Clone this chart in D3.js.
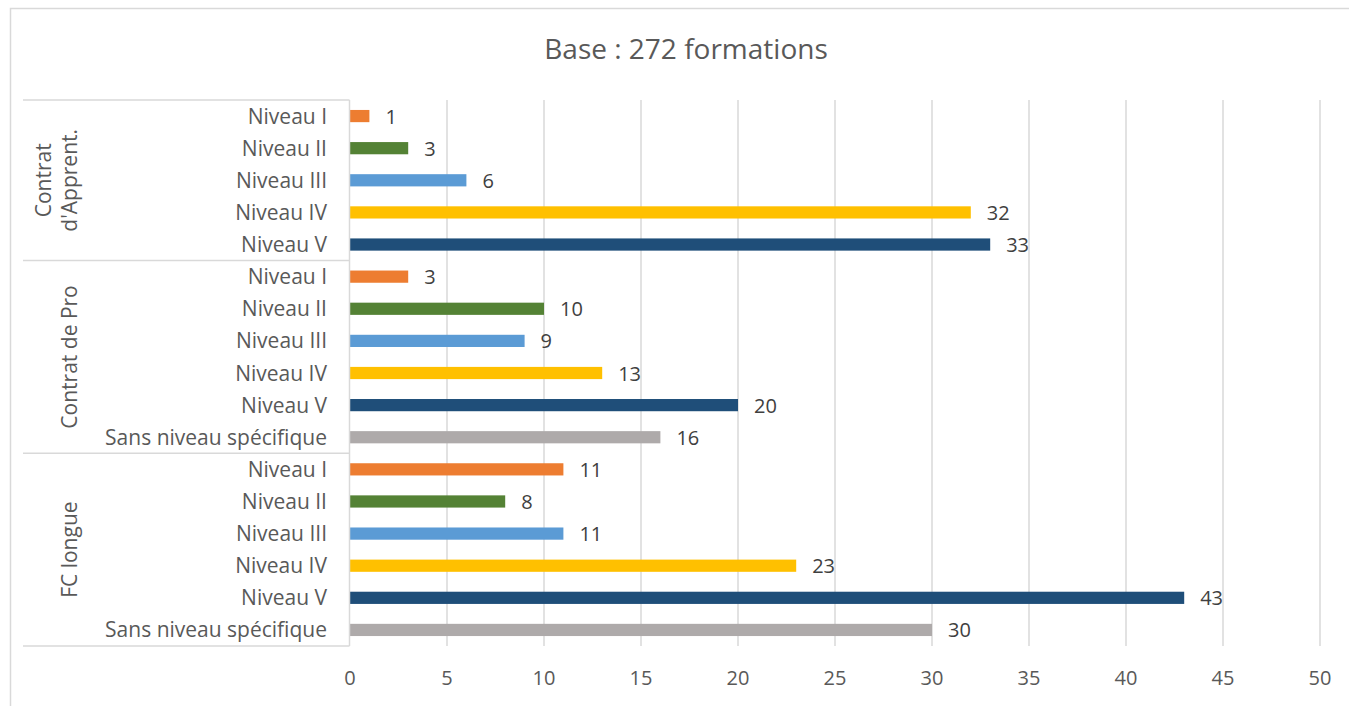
<!DOCTYPE html>
<html><head><meta charset="utf-8">
<script src="https://cdn.jsdelivr.net/npm/d3@7"></script>
<style>body{margin:0;background:#fff;} svg{display:block;font-family:"Open Sans",sans-serif;}</style>
</head><body><svg id="c" width="1349" height="706"></svg>
<script>
const title = "Base : 272 formations";
const groups = ["Contrat d'Apprent.", "Contrat de Pro", "FC longue"];
const groupLines = [["Contrat", "d'Apprent."], ["Contrat de Pro"], ["FC longue"]];
const levels = ["Niveau I", "Niveau II", "Niveau III", "Niveau IV", "Niveau V", "Sans niveau spécifique"];
const apprentValues = [1, 3, 6, 32, 33];
const proValues = [3, 10, 9, 13, 20, 16];
const fcValues = [11, 8, 11, 23, 43, 30];
const ticks = [0, 5, 10, 15, 20, 25, 30, 35, 40, 45, 50];
const colors = {"Niveau I":"#ED7D31","Niveau II":"#548235","Niveau III":"#5B9BD5","Niveau IV":"#FFC000","Niveau V":"#1F4E79","Sans niveau spécifique":"#AEAAAA"};

(function(){
const groupValues = [apprentValues, proValues, fcValues];
const rows = [];
groupValues.forEach((vals, gi) => vals.forEach((v, li) => rows.push({group: groups[gi], level: levels[li], value: v, key: gi + "|" + li})));

const svg = d3.select("#c");
const pL = 349.5, pR = 1320, pT = 100, pB = 646;
const x = d3.scaleLinear().domain([0, 50]).range([pL + 0.5, pR]);
const y = d3.scaleBand().domain(rows.map(r => r.key)).range([pT, pB]).paddingInner(0.62).paddingOuter(0.31);

svg.append("rect").attr("x", 10.5).attr("y", 8.5).attr("width", 1360).attr("height", 720)
  .attr("fill", "none").attr("stroke", "#d9d9d9").attr("stroke-width", 1.5);

svg.append("text").attr("x", 686).attr("y", 59).attr("text-anchor", "middle")
  .attr("font-size", 28).attr("fill", "#595959").text(title);

svg.append("g").selectAll("line").data(ticks.slice(1)).join("line")
  .attr("x1", d => x(d)).attr("x2", d => x(d)).attr("y1", pT).attr("y2", pB)
  .attr("stroke", "#d9d9d9").attr("stroke-width", 1.5);

svg.append("g").selectAll("text").data(ticks).join("text")
  .attr("x", d => x(d)).attr("y", 685).attr("text-anchor", "middle")
  .attr("font-size", 20).attr("fill", "#595959").text(d => d);

svg.append("g").selectAll("rect").data(rows).join("rect")
  .attr("x", x(0)).attr("y", d => y(d.key)).attr("width", d => x(d.value) - x(0))
  .attr("height", y.bandwidth()).attr("fill", d => colors[d.level]);

svg.append("g").selectAll("text").data(rows).join("text")
  .attr("x", d => x(d.value) + 16).attr("y", d => y(d.key) + y.bandwidth() / 2 + 7.5)
  .attr("font-size", 20).attr("fill", "#404040").text(d => d.value);

svg.append("g").selectAll("text").data(rows).join("text")
  .attr("x", 327).attr("y", d => y(d.key) + y.bandwidth() / 2 + 7.5).attr("text-anchor", "end")
  .attr("font-size", 21).attr("fill", "#595959").text(d => d.level);

const step = y.step();
let start = 0;
const bounds = [pT];
groupValues.forEach(v => { start += v.length; bounds.push(pT + start * step); });
svg.append("g").selectAll("line").data(bounds).join("line")
  .attr("x1", 23).attr("x2", pL).attr("y1", d => d).attr("y2", d => d)
  .attr("stroke", "#d9d9d9").attr("stroke-width", 1.5);
svg.append("line").attr("x1", pL).attr("x2", pL).attr("y1", pT).attr("y2", pB)
  .attr("stroke", "#d9d9d9").attr("stroke-width", 1.5);

groupLines.forEach((lines, gi) => {
  const cy = (bounds[gi] + bounds[gi + 1]) / 2;
  const n = lines.length;
  lines.forEach((t, li) => {
    const cx = 77 - (n - 1 - li) * 26;
    svg.append("text").attr("transform", `translate(${cx},${cy}) rotate(-90)`)
      .attr("text-anchor", "middle").attr("font-size", 21).attr("fill", "#595959").text(t);
  });
});
})();
</script></body></html>
